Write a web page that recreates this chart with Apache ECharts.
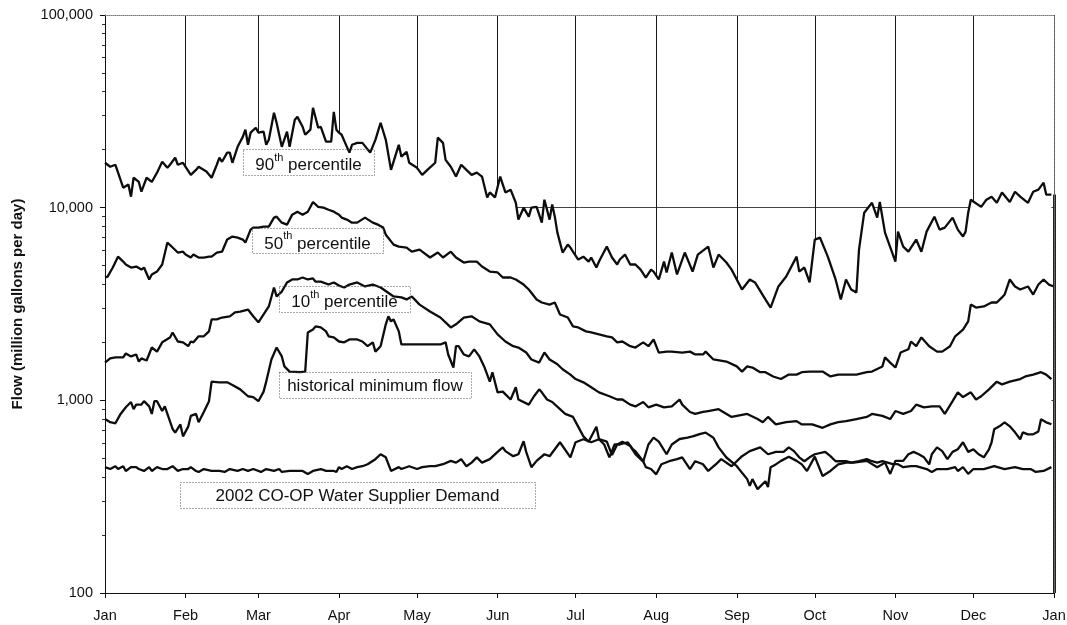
<!DOCTYPE html>
<html><head><meta charset="utf-8">
<script src="https://cdn.jsdelivr.net/npm/echarts@6/dist/echarts.min.js"></script>
<style>html,body{margin:0;padding:0;background:#fff}#c{width:1067px;height:625px}</style>
</head><body><div id="c"></div>
<script>
// ---- axis ticks / labels ----
const monthLabels = ['Jan','Feb','Mar','Apr','May','Jun','Jul','Aug','Sep','Oct','Nov','Dec','Jan'];
const monthStartDays = [0,31,59,90,120,151,181,212,243,273,304,334,365];
const yTickValues = [100,1000,10000,100000];
const yTickLabels = ['100','1,000','10,000','100,000'];
const yMinorTicks = [200,300,400,500,600,700,800,900,2000,3000,4000,5000,6000,7000,8000,9000,20000,30000,40000,50000,60000,70000,80000,90000];
const yTitle = 'Flow (million gallons per day)';

// ---- series: day of year and flow (million gallons per day) ----
const p90Day = [0,2,4,7,9,10,11,13,14,16,18,20,22,24,25,27,28,30,31,33,35,36,39,41,43,44,45,47,48,49,51,53,54,55,56,58,59,61,62,63,65,66,68,70,71,73,74,76,77,79,80,82,83,85,87,88,89,90,91,94,95,97,99,102,104,106,108,110,113,114,116,117,120,122,124,127,128,130,131,133,135,137,139,141,143,145,147,148,150,152,154,156,158,159,161,163,164,166,168,169,171,172,173,174,176,178,179,182,184,186,187,189,190,193,195,197,198,200,202,204,206,208,210,211,213,215,216,218,220,223,226,228,232,234,236,239,241,245,248,250,254,256,259,262,266,267,269,271,273,275,278,281,283,285,287,289,290,292,295,297,298,300,304,305,307,309,312,314,316,319,321,323,326,328,330,331,332,333,337,339,341,343,345,348,350,352,355,357,359,361,362,364];
const p90Flow = [17100,16300,16700,12700,13200,11400,14300,13600,12100,14300,13600,15200,17300,16100,16700,18200,16700,17100,16300,14800,15700,16300,15400,14300,16700,18200,17300,19300,19300,17100,20700,23300,25400,21200,24500,26000,24500,24800,21200,22500,31100,27600,20700,24800,20700,28600,29600,26300,23900,25400,33000,26000,26300,22000,22000,31400,25400,24500,23900,19300,21200,21700,21700,19300,22500,27600,22500,15700,21200,18400,19500,17100,16100,14800,15700,17100,23100,21700,17700,16300,14500,16700,15700,14800,15200,14500,11300,12000,11300,14500,12000,12400,10600,8670,10000,8980,10000,10100,8360,11000,8670,10400,8980,7420,5850,6430,6210,5380,5570,5250,5510,4890,5250,6280,5510,5070,5380,5710,5070,5070,4770,4340,4770,4660,4240,5250,4610,5850,4500,5850,4660,5710,6280,4890,5710,5190,4770,3760,4240,4090,3340,3030,3900,4390,5570,4660,4890,4090,6830,6990,5570,4240,3340,4240,3760,3630,6060,9420,10600,8880,10700,7420,5250,7510,6280,5910,6830,5910,7510,8980,7690,7880,8880,7690,7080,7510,9420,11000,10100,11000,11400,10600,12000,10700,12100,11400,10600,12100,12400,13480,11700,11700];

const p50Day = [0,1,3,5,7,8,10,12,14,15,17,18,20,22,24,26,28,30,31,33,34,36,38,40,41,43,45,47,49,51,53,54,56,57,59,61,63,65,66,68,70,72,74,76,78,80,82,84,86,88,90,91,93,95,97,100,103,105,107,108,111,113,116,118,121,125,128,130,133,135,138,140,143,145,148,151,153,156,158,161,163,166,168,171,173,175,178,180,182,185,187,190,193,195,197,199,202,204,207,209,211,213,216,218,222,225,227,230,231,234,239,243,245,247,249,252,254,257,260,263,266,268,271,273,276,279,282,285,289,293,295,299,300,302,304,306,309,310,312,314,317,320,322,325,327,330,332,333,335,338,341,343,345,346,348,350,352,355,357,359,361,363,365];
const p50Flow = [4340,4390,4890,5570,5250,5070,4890,4950,4770,4890,4240,4500,4660,5070,6590,6210,5850,5910,5710,5510,5710,5510,5510,5570,5570,5850,5910,6830,7080,6990,6830,6590,7690,7880,7880,7970,7970,8880,8980,8360,8160,9200,9530,9200,9530,10700,10100,10000,9760,9530,9200,8880,8670,8360,8360,8880,8360,8160,7880,7240,6430,6280,6210,5910,6060,5510,5850,5510,5910,5510,5190,5250,5250,4950,4660,4610,4340,4340,4240,3990,3760,3340,3220,3140,3220,2790,2690,2420,2390,2280,2250,2200,2150,2120,2000,2020,1910,1880,2000,1910,2070,1770,1790,1790,1770,1790,1730,1730,1790,1630,1590,1500,1410,1500,1480,1400,1400,1330,1290,1360,1360,1400,1410,1410,1410,1330,1360,1360,1360,1400,1410,1500,1670,1570,1480,1770,1840,2020,1910,2120,1910,1790,1790,1910,2150,2330,2570,3140,3030,3070,3220,3220,3420,3540,4240,3900,3760,3900,3540,3990,4240,3990,3900];

const p10Day = [0,2,4,7,8,10,12,13,14,16,18,20,22,25,26,28,30,32,33,34,36,38,40,41,43,45,48,50,52,55,57,59,61,63,65,66,68,70,72,74,76,78,80,81,83,86,88,90,92,94,97,100,103,106,111,114,116,118,121,125,129,133,135,138,141,144,148,151,154,157,159,162,164,167,169,171,174,176,179,181,184,187,190,194,197,199,202,204,207,209,212,215,218,221,222,225,227,230,232,236,241,247,251,253,255,258,262,266,268,272,276,279,282,285,289,293,295,299,302,304,307,310,312,315,318,321,323,326,328,330,333,335,337,340,343,345,348,352,354,357,360,362,364];
const p10Flow = [1570,1650,1670,1670,1750,1690,1730,1590,1650,1610,1880,1790,2000,2120,2250,2020,2000,1910,2020,2000,2150,2150,2280,2630,2630,2690,2730,2860,2890,2960,2730,2540,2790,3070,3850,3460,3670,4090,4240,4240,4340,4240,4290,4130,4130,3990,4090,3940,3850,3990,4090,3900,3990,3850,3460,3420,3340,3460,3140,2890,2690,2390,2480,2690,2730,2570,2480,2200,2020,1910,1880,1770,1630,1570,1770,1630,1540,1450,1360,1290,1240,1170,1100,1050,1010,1010,950,930,980,920,950,920,930,1010,950,870,850,870,880,900,820,850,800,770,820,750,770,780,750,750,720,750,770,780,800,820,850,830,800,880,850,880,950,920,930,930,850,990,1100,1040,1100,1010,1050,1140,1250,1210,1250,1290,1330,1360,1400,1360,1290];

const histMinDay = [0,2,4,6,8,10,11,12,14,15,17,18,19,20,22,23,24,26,27,29,30,32,33,35,36,38,40,41,44,47,49,52,55,57,59,61,62,64,66,68,69,71,75,77,78,80,81,83,85,86,88,90,92,94,97,99,101,103,104,106,108,109,110,111,113,114,129,131,132,134,135,136,138,140,142,144,146,148,149,151,153,156,158,159,163,165,167,168,170,172,175,177,180,182,184,186,189,190,193,195,197,199,202,204,207,209,211,213,216,218,221,224,226,229,231,234,236,239,243,247,248,249,251,254,255,256,258,260,263,266,268,270,273,276,279,282,285,288,293,297,300,302,304,307,309,311,313,315,317,318,320,322,324,326,328,330,332,334,336,338,340,341,342,344,346,348,350,352,353,355,357,359,360,362,364];
const histMinFlow = [800,770,760,850,920,980,900,950,950,990,930,850,990,990,880,930,850,710,680,750,650,730,830,850,770,870,990,1250,1240,1240,1200,1140,1050,1040,990,1110,1250,1630,1880,1690,1500,1410,1400,1410,2250,2330,2420,2390,2280,2150,2120,2020,2000,2070,2070,2020,1910,2000,1790,1910,2480,2730,2570,2630,2280,1950,1950,2000,1730,1480,1910,1910,1730,1690,1840,1690,1480,1250,1400,1100,1110,1010,1170,1010,950,1050,1140,1100,1010,980,900,850,820,730,650,610,730,630,610,520,590,610,580,525,480,590,640,610,525,590,630,640,650,670,680,640,570,505,455,390,360,390,346,380,355,450,465,485,510,485,465,430,510,405,430,465,475,475,485,450,475,415,485,485,525,540,525,506,465,525,570,545,495,540,557,606,540,557,525,506,557,606,707,733,769,733,682,628,682,666,666,690,797,769,751];

const demandDay = [0,2,4,5,7,8,10,12,13,15,17,18,20,22,24,26,28,30,32,33,35,36,38,41,44,46,48,51,53,55,57,60,62,65,67,68,71,74,76,78,80,83,85,88,89,90,91,93,95,97,99,101,104,106,108,110,113,114,117,120,122,125,127,130,133,135,137,139,141,143,145,148,151,153,154,157,159,161,162,164,166,169,171,173,175,179,181,184,187,190,192,194,196,198,201,203,204,207,208,210,212,214,217,220,222,225,227,230,232,235,237,241,245,248,252,255,258,261,263,265,267,269,271,273,277,279,281,285,287,290,293,295,297,299,303,305,307,310,312,316,318,320,324,327,328,330,332,334,338,342,346,350,353,356,358,361,364];
const demandFlow = [450,440,455,440,455,430,450,450,440,430,450,430,450,440,440,455,430,440,440,450,430,425,440,430,430,425,440,430,440,430,440,425,440,430,440,425,430,430,430,415,430,440,430,430,425,450,440,455,440,450,455,466,495,525,506,430,450,440,455,440,450,455,455,466,485,475,495,455,475,506,475,495,540,570,545,513,525,613,540,450,485,525,513,557,606,506,606,628,606,628,590,506,590,590,606,557,545,483,450,440,413,466,483,495,506,440,483,466,430,466,495,455,513,545,570,525,540,540,570,545,506,483,506,525,540,513,483,483,475,483,495,483,475,483,466,466,450,455,455,440,425,440,440,450,430,450,415,440,440,455,440,450,440,440,425,430,450];

// ---- annotation texts ----
const annotationTexts = [
  '{a|90}{b|th}{a| percentile}',
  '{a|50}{b|th}{a| percentile}',
  '{a|10}{b|th}{a| percentile}',
  '{c|historical minimum flow}',
  '{c|2002 CO-OP Water Supplier Demand}'
];

function pairs(d, v) { return d.map((x, i) => [x, v[i]]); }
const FONT = "'Liberation Sans', Arial, Helvetica, sans-serif";
const INK = '#111';
const lineStyle = { color: '#0d0d0d', width: 2.3 };

// annotation boxes (pixel layout)
const boxes = [
  { x: 243, y: 149, w: 131, h: 26 },
  { x: 252, y: 228, w: 131, h: 25 },
  { x: 279, y: 286, w: 131, h: 26 },
  { x: 279, y: 372, w: 192, h: 26 },
  { x: 180, y: 482, w: 355, h: 26 }
];
const rich = {
  a: { fontSize: 17, fontFamily: FONT, color: INK, lineHeight: 22, verticalAlign: 'bottom' },
  b: { fontSize: 11, fontFamily: FONT, color: INK, lineHeight: 22, verticalAlign: 'top' },
  c: { fontSize: 17, fontFamily: FONT, color: INK, lineHeight: 20 }
};
const graphics = [];
boxes.forEach((b, i) => {
  graphics.push({ type: 'rect', z: 100, silent: true,
    shape: { x: b.x + 0.5, y: b.y + 0.5, width: b.w, height: b.h },
    style: { fill: 'none', stroke: '#555', lineWidth: 1, lineDash: [1, 2] } });
  graphics.push({ type: 'text', z: 101, silent: true,
    x: b.x + b.w / 2, y: b.y + b.h / 2 + 1,
    style: { text: annotationTexts[i], rich: rich, align: 'center', verticalAlign: 'middle',
             textAlign: 'center', textVerticalAlign: 'middle', fill: INK } });
});

function yLabel(v) {
  const i = yTickValues.findIndex(t => Math.abs(t - v) < t * 1e-6);
  return i >= 0 ? yTickLabels[i] : '';
}
function xLabel(v) {
  const i = monthStartDays.findIndex(t => Math.abs(t - v) < 1e-6);
  return i >= 0 ? monthLabels[i] : '';
}

const chart = echarts.init(document.getElementById('c'), null, { renderer: 'canvas' });
const base = { min: 0, max: 365, type: 'value' };
const logBase = { type: 'log', logBase: 10, min: 100, max: 100000 };
const option = {
  animation: false,
  backgroundColor: '#fff',
  grid: { left: 105, right: 13, top: 15, bottom: 32, outerBoundsMode: 'none' },
  xAxis: [
    Object.assign({}, base, {
      axisLine: { show: false }, axisTick: { show: false, customValues: monthStartDays },
      axisLabel: { show: false },
      splitLine: { show: true, lineStyle: { color: '#1a1a1a', width: 1 } }
    }),
    Object.assign({}, base, {
      position: 'bottom', z: 10,
      axisLine: { show: true, onZero: false, lineStyle: { color: INK, width: 1 } },
      axisTick: { show: true, customValues: monthStartDays, length: 5, lineStyle: { color: INK } },
      axisLabel: { customValues: monthStartDays, formatter: xLabel, margin: 15, fontSize: 14.5, color: INK, fontFamily: FONT },
      splitLine: { show: false }
    }),
    Object.assign({}, base, {
      position: 'top', z: 10,
      axisLine: { show: true, onZero: false, lineStyle: { color: '#777', type: 'dotted' } },
      axisTick: { show: false }, axisLabel: { show: false }, splitLine: { show: false }
    })
  ],
  yAxis: [
    Object.assign({}, logBase, {
      axisLine: { show: false }, axisTick: { show: false }, axisLabel: { show: false },
      splitLine: { show: true, lineStyle: { color: ['rgba(0,0,0,0)', '#444', '#444', 'rgba(0,0,0,0)'], width: 1 } }
    }),
    Object.assign({}, logBase, {
      position: 'left', z: 10,
      axisLine: { show: true, onZero: false, lineStyle: { color: INK, width: 1 } },
      axisTick: { show: true, length: 5, lineStyle: { color: INK } },
      axisLabel: { formatter: yLabel, margin: 12, fontSize: 14.5, color: INK, fontFamily: FONT },
      splitLine: { show: false },
      name: yTitle, nameLocation: 'middle', nameGap: 80, nameRotate: 90,
      nameTextStyle: { fontSize: 15, fontWeight: 'bold', color: INK, fontFamily: FONT }
    }),
    Object.assign({}, logBase, {
      position: 'left', z: 10,
      axisLine: { show: false },
      axisTick: { show: true, customValues: yMinorTicks, length: 3, lineStyle: { color: '#333' } },
      axisLabel: { show: false }, splitLine: { show: false }
    }),
    Object.assign({}, logBase, {
      position: 'right', z: 10,
      axisLine: { show: true, onZero: false, lineStyle: { color: '#777', type: 'dotted' } },
      axisTick: { show: false }, axisLabel: { show: false }, splitLine: { show: false }
    })
  ],
  series: [
    { type: 'line', name: '90th percentile', data: pairs(p90Day, p90Flow), symbol: 'none', lineStyle: lineStyle,
      areaStyle: { color: '#fff', opacity: 1, origin: 'start' }, z: 2,
      markLine: { silent: true, symbol: ['none', 'none'], label: { show: false },
        lineStyle: { color: '#222', width: 3, type: 'solid' },
        data: [[{ coord: [365, p90Flow[p90Flow.length - 1]] }, { coord: [365, 100] }]] } },
    { type: 'line', name: '50th percentile', data: pairs(p50Day, p50Flow), symbol: 'none', lineStyle: lineStyle, z: 3 },
    { type: 'line', name: '10th percentile', data: pairs(p10Day, p10Flow), symbol: 'none', lineStyle: lineStyle, z: 3 },
    { type: 'line', name: 'historical minimum flow', data: pairs(histMinDay, histMinFlow), symbol: 'none', lineStyle: lineStyle, z: 3 },
    { type: 'line', name: '2002 CO-OP Water Supplier Demand', data: pairs(demandDay, demandFlow), symbol: 'none', lineStyle: lineStyle, z: 3 }
  ],
  graphic: graphics
};
chart.setOption(option);
</script>
</body></html>
